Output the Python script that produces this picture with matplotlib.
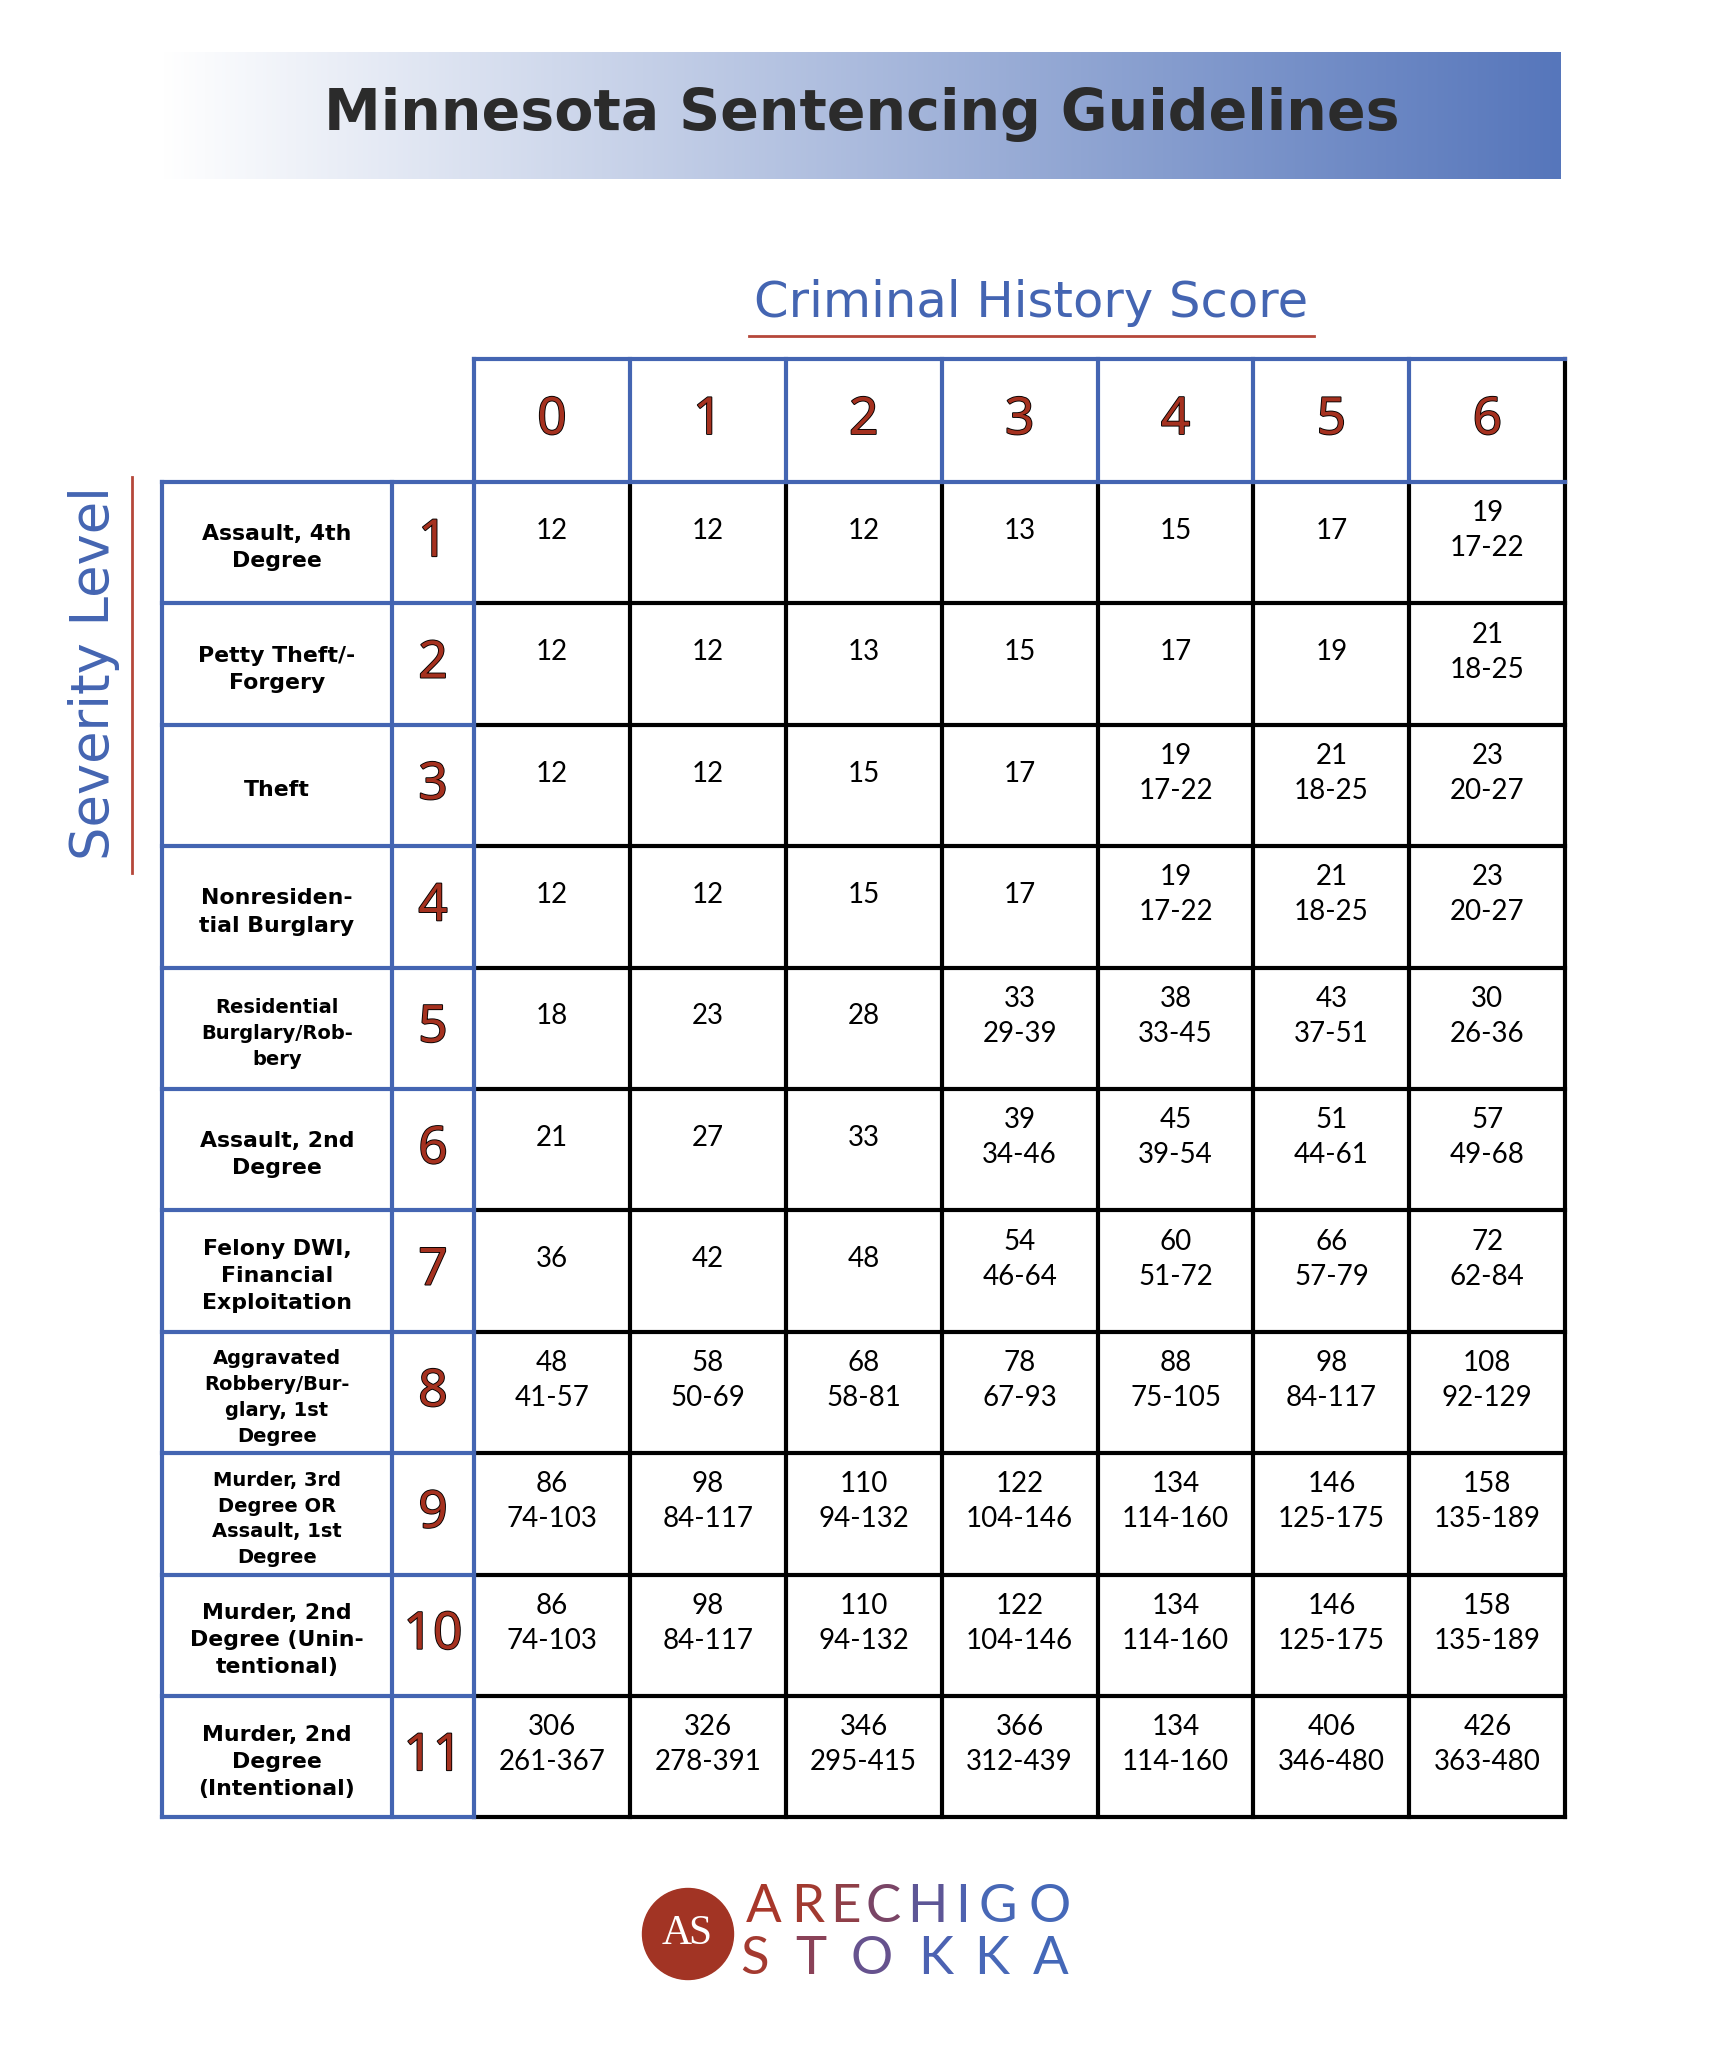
import numpy as np
import matplotlib.pyplot as plt
import matplotlib.patheffects as pe
from matplotlib.patches import Circle
from matplotlib.colors import to_rgb

# ---- chart content ----
title = "Minnesota Sentencing Guidelines"
col_title = "Criminal History Score"
row_title = "Severity Level"
history_scores = ["0", "1", "2", "3", "4", "5", "6"]
severity_levels = ["1", "2", "3", "4", "5", "6", "7", "8", "9", "10", "11"]
offenses = [
    "Assault, 4th\nDegree",
    "Petty Theft/-\nForgery",
    "Theft",
    "Nonresiden-\ntial Burglary",
    "Residential\nBurglary/Rob-\nbery",
    "Assault, 2nd\nDegree",
    "Felony DWI,\nFinancial\nExploitation",
    "Aggravated\nRobbery/Bur-\nglary, 1st\nDegree",
    "Murder, 3rd\nDegree OR\nAssault, 1st\nDegree",
    "Murder, 2nd\nDegree (Unin-\ntentional)",
    "Murder, 2nd\nDegree\n(Intentional)",
]
presumptive = [
    [12, 12, 12, 13, 15, 17, 19],
    [12, 12, 13, 15, 17, 19, 21],
    [12, 12, 15, 17, 19, 21, 23],
    [12, 12, 15, 17, 19, 21, 23],
    [18, 23, 28, 33, 38, 43, 30],
    [21, 27, 33, 39, 45, 51, 57],
    [36, 42, 48, 54, 60, 66, 72],
    [48, 58, 68, 78, 88, 98, 108],
    [86, 98, 110, 122, 134, 146, 158],
    [86, 98, 110, 122, 134, 146, 158],
    [306, 326, 346, 366, 134, 406, 426],
]
ranges = [
    ["", "", "", "", "", "", "17-22"],
    ["", "", "", "", "", "", "18-25"],
    ["", "", "", "", "17-22", "18-25", "20-27"],
    ["", "", "", "", "17-22", "18-25", "20-27"],
    ["", "", "", "29-39", "33-45", "37-51", "26-36"],
    ["", "", "", "34-46", "39-54", "44-61", "49-68"],
    ["", "", "", "46-64", "51-72", "57-79", "62-84"],
    ["41-57", "50-69", "58-81", "67-93", "75-105", "84-117", "92-129"],
    ["74-103", "84-117", "94-132", "104-146", "114-160", "125-175", "135-189"],
    ["74-103", "84-117", "94-132", "104-146", "114-160", "125-175", "135-189"],
    ["261-367", "278-391", "295-415", "312-439", "114-160", "346-480", "363-480"],
]
logo_top = "ARECHIGO"
logo_bottom = "STOKKA"

# ---- style ----
BLUE = "#4465b2"
RED = "#a5311f"
DARK = "#2b2b2b"
W, H = 1727, 2048

fig = plt.figure(figsize=(W / 100, H / 100), dpi=100)
ax = fig.add_axes([0, 0, 1, 1])
ax.set_xlim(0, W)
ax.set_ylim(H, 0)
ax.axis("off")

# title banner with gradient
grad = np.linspace(0, 1, 600)[None, :, None]
c0 = np.array(to_rgb("#ffffff"))
c1 = np.array(to_rgb("#5676bb"))
img = c0 + (c1 - c0) * grad
ax.imshow(img, extent=(163, 1561, 179, 52), aspect="auto", zorder=0)
ax.text(862, 114, title, fontsize=41, fontweight="bold", color=DARK,
        family="DejaVu Sans", ha="center", va="center")

# axis titles
ax.text(1031, 303, col_title, fontsize=35.7, color=BLUE, family="DejaVu Sans",
        ha="center", va="center")
ax.plot([749, 1314], [336, 336], color="#b5473a", lw=2)
ax.text(94, 673, row_title, fontsize=38, color=BLUE, family="DejaVu Sans",
        rotation=90, ha="center", va="center")
ax.plot([132, 132], [477, 873], color="#b5473a", lw=2)

# table geometry
x_lab, x_sev, x0 = 162, 392, 474
cw = 155.9
y_head, y0 = 359, 482
rh = 121.4
ncol = len(history_scores)
nrow = len(severity_levels)
x_end = x0 + ncol * cw
y_end = y0 + nrow * rh
lw = 3.0

# black grid in the data area
for j in range(1, ncol + 1):
    ax.plot([x0 + j * cw] * 2, [y0, y_end], color="black", lw=lw,
            solid_capstyle="projecting", zorder=2)
for i in range(1, nrow + 1):
    ax.plot([x0, x_end], [y0 + i * rh] * 2, color="black", lw=lw,
            solid_capstyle="projecting", zorder=2)
ax.plot([x_end, x_end], [y_head, y0], color="black", lw=lw,
        solid_capstyle="projecting", zorder=2)

# blue lines: header row and label columns
ax.plot([x0, x_end], [y_head, y_head], color=BLUE, lw=lw,
        solid_capstyle="projecting", zorder=3)
for j in range(ncol):
    ax.plot([x0 + j * cw] * 2, [y_head, y0], color=BLUE, lw=lw,
            solid_capstyle="projecting", zorder=3)
ax.plot([x_lab, x_end], [y0, y0], color=BLUE, lw=lw,
        solid_capstyle="projecting", zorder=3)
for xv in (x_lab, x_sev, x0):
    ax.plot([xv, xv], [y0, y_end], color=BLUE, lw=lw,
            solid_capstyle="projecting", zorder=3)
for i in range(1, nrow + 1):
    ax.plot([x_lab, x0], [y0 + i * rh] * 2, color=BLUE, lw=lw,
            solid_capstyle="projecting", zorder=3)

outline = [pe.Stroke(linewidth=1.3, foreground="black"), pe.Normal()]

# header numbers
for j, s in enumerate(history_scores):
    t = ax.text(x0 + (j + 0.5) * cw, (y_head + y0) / 2, s, fontsize=37,
                color=RED, family="Noto Sans", ha="center", va="center")
    t.set_path_effects(outline)

label_size = {4: 14, 7: 14, 8: 14}
for i in range(nrow):
    yc = y0 + (i + 0.5) * rh
    ax.text((x_lab + x_sev) / 2, yc + 5, offenses[i],
            fontsize=label_size.get(i, 15.8), fontweight="bold", color="black",
            family="DejaVu Sans", ha="center", va="center", linespacing=1.45,
            multialignment="center")
    t = ax.text((x_sev + x0) / 2, yc, severity_levels[i], fontsize=37,
                color=RED, family="Noto Sans", ha="center", va="center")
    t.set_path_effects(outline)
    for j in range(ncol):
        txt = str(presumptive[i][j])
        if ranges[i][j]:
            txt += "\n" + ranges[i][j]
        ax.text(x0 + (j + 0.5) * cw, yc - 12, txt, fontsize=20,
                color="black", family="Lato",
                ha="center", va="center", linespacing=1.42)

# logo
ax.add_patch(Circle((688, 1934), 45.5, color="#a23424", zorder=4))
ax.text(677, 1934, "A", fontsize=30, color="white", family="Liberation Serif",
        ha="center", va="center", zorder=5)
ax.text(700, 1934, "S", fontsize=30, color="white", family="Liberation Serif",
        ha="center", va="center", zorder=5)
top_x = [764, 808, 845, 883, 927, 963, 998, 1050]
top_c = ["#a8372a", "#a23a30", "#8f3f48", "#7a4566", "#5d5696", "#4f62b0",
         "#4868b6", "#4568b8"]
bot_x = [755, 811, 872, 936, 992, 1051]
bot_c = ["#a43a30", "#8a4258", "#66528e", "#4c62b2", "#4868b8", "#4468b8"]
for ch, xx, cc in zip(logo_top, top_x, top_c):
    ax.text(xx, 1907, ch, fontsize=38, color=cc, family="Lato",
            ha="center", va="center")
for ch, xx, cc in zip(logo_bottom, bot_x, bot_c):
    ax.text(xx, 1960, ch, fontsize=38, color=cc, family="Lato",
            ha="center", va="center")

fig.savefig("out.png", dpi=100, facecolor="white")
